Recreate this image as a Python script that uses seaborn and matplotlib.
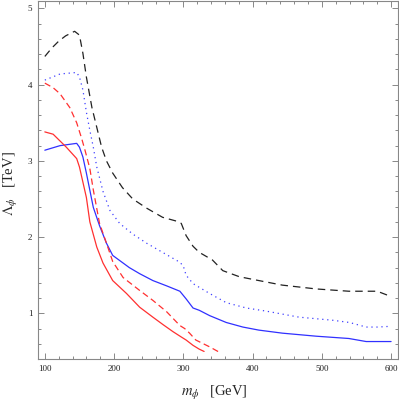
import numpy as np
import pandas as pd
import matplotlib
matplotlib.use("Agg")
import matplotlib.pyplot as plt
from matplotlib.ticker import MultipleLocator
import seaborn as sns

# black dashed
m_black = [100, 110, 120, 130, 143, 150, 155, 160, 168, 175, 182, 189, 198, 212, 227, 247,
           270, 290, 297, 304, 314, 323, 342, 357, 381, 409, 443, 492, 539, 580, 600]
l_black = [4.37, 4.48, 4.57, 4.64, 4.70, 4.65, 4.41, 4.10, 3.70, 3.44, 3.18, 3.00, 2.84, 2.65, 2.50, 2.38,
           2.26, 2.21, 2.18, 2.02, 1.88, 1.80, 1.70, 1.56, 1.48, 1.43, 1.37, 1.32, 1.29, 1.29, 1.22]

# blue dotted
m_bdot = [100, 122, 146, 150, 155, 160, 165, 170, 175, 184, 194, 208, 227, 247, 270, 295,
          300, 304, 314, 338, 362, 391, 419, 467, 515, 540, 564, 580, 600]
l_bdot = [4.06, 4.14, 4.16, 4.10, 3.93, 3.64, 3.40, 3.18, 2.92, 2.60, 2.35, 2.18, 2.04, 1.92, 1.80, 1.67,
          1.62, 1.50, 1.39, 1.26, 1.14, 1.07, 1.03, 0.95, 0.91, 0.88, 0.82, 0.82, 0.83]

# blue solid
m_blue = [100, 122, 146, 150, 155, 160, 170, 179, 189, 198, 222, 237, 256, 276, 295, 304,
          314, 323, 338, 362, 386, 409, 443, 492, 539, 564, 600]
l_blue = [3.14, 3.20, 3.23, 3.18, 3.05, 2.84, 2.39, 2.15, 1.92, 1.76, 1.60, 1.52, 1.43, 1.36, 1.29, 1.19,
          1.07, 1.04, 0.97, 0.88, 0.82, 0.78, 0.74, 0.70, 0.67, 0.63, 0.63]

# red dashed
m_rdash = [100, 112, 122, 136, 146, 153, 158, 165, 170, 179, 189, 198, 213, 237, 256, 276,
           295, 302, 309, 318, 338, 352]
l_rdash = [4.02, 3.96, 3.88, 3.70, 3.50, 3.30, 3.14, 2.90, 2.62, 2.18, 1.92, 1.68, 1.47, 1.30, 1.17, 1.02,
           0.84, 0.80, 0.74, 0.65, 0.56, 0.49]

# red solid
m_red = [100, 112, 131, 146, 150, 155, 160, 165, 175, 184, 198, 218, 237, 256, 271, 285,
         297, 304, 314, 323, 330]
l_red = [3.38, 3.35, 3.18, 3.03, 2.92, 2.72, 2.52, 2.20, 1.87, 1.66, 1.43, 1.26, 1.08, 0.95, 0.85, 0.76,
         0.69, 0.65, 0.58, 0.53, 0.50]

sns.set_style("ticks")
plt.rcParams['font.family'] = ['Liberation Serif', 'DejaVu Serif']
plt.rcParams['mathtext.fontset'] = 'stix'

fig = plt.figure(figsize=(3.99, 4.03), dpi=100)
ax = fig.add_axes([0.095, 0.109, 0.9025, 0.889])

curves = [
    (m_black, l_black, "#222222", (0, (6, 4))),
    (m_bdot, l_bdot, "#4040ff", (0, (1, 3))),
    (m_blue, l_blue, "#3030ff", "-"),
    (m_rdash, l_rdash, "#ff3030", (0, (5, 3))),
    (m_red, l_red, "#ff3030", "-"),
]
for m, l, c, ls in curves:
    df = pd.DataFrame({"m": m, "L": l})
    sns.lineplot(data=df, x="m", y="L", ax=ax, color=c, linewidth=0.9,
                 linestyle=ls, sort=False, estimator=None)

ax.set_xlim(90, 610)
ax.set_ylim(0.4, 5.1)
ax.xaxis.set_major_locator(MultipleLocator(100))
ax.xaxis.set_minor_locator(MultipleLocator(20))
ax.yaxis.set_major_locator(MultipleLocator(1))
ax.yaxis.set_minor_locator(MultipleLocator(0.2))

for s in ax.spines.values():
    s.set_color("#888888")
    s.set_linewidth(0.8)
ax.tick_params(which="both", direction="in", top=True, right=True, color="#888888",
               labelsize=6.5, labelcolor="#222222", width=0.7)
ax.tick_params(which="major", length=4, pad=4)
ax.tick_params(which="minor", length=2)

ax.set_xlabel(r"$m_\phi\ \ \ $[GeV]", fontsize=10.5)
ax.set_ylabel(r"$\Lambda_\phi\ \ \ $[TeV]", fontsize=10.5)
ax.xaxis.set_label_coords(0.49, -0.07)
ax.yaxis.set_label_coords(-0.05, 0.49)

fig.savefig("out.png", dpi=100)
